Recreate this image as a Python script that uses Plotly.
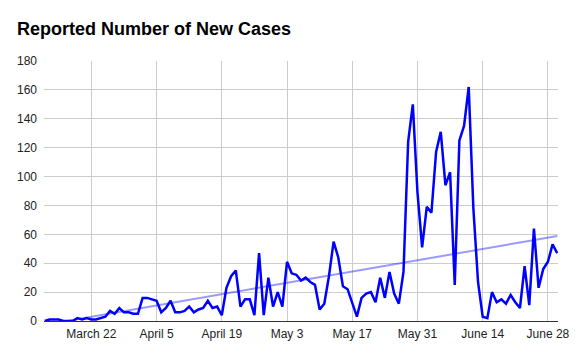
import numpy as np
import pandas as pd
import plotly.graph_objects as go

start_date = "2020-03-12"
new_cases = [
    0, 1, 1, 1, 0, 0, 0, 2, 1, 2,            # Mar 12-21
    1, 1, 2, 3, 7, 5, 9, 6, 6, 5,            # Mar 22-31
    5, 16, 16, 15, 14, 6, 9, 14, 6, 6,       # Apr 1-10
    7, 10, 6, 8, 9, 14, 9, 10, 4, 23,        # Apr 11-20
    31, 35, 10, 15, 15, 4, 47, 4, 30, 10,    # Apr 21-30
    20, 10, 41, 33, 32, 28, 30, 27, 25, 8,   # May 1-10
    12, 31, 55, 44, 24, 22, 13, 3, 16, 19,   # May 11-20
    20, 13, 30, 16, 34, 19, 12, 34, 124, 150, 89,  # May 21-31
    51, 79, 75, 117, 131, 94, 103, 25, 125, 135,   # Jun 1-10
    162, 78, 27, 3, 2, 20, 13, 15, 12, 18,         # Jun 11-20
    13, 9, 38, 11, 64, 23, 36, 41, 53, 47,         # Jun 21-30
]
tick_dates = ["2020-03-22", "2020-04-05", "2020-04-19", "2020-05-03",
              "2020-05-17", "2020-05-31", "2020-06-14", "2020-06-28"]
tick_labels = ["March 22", "April 5", "April 19", "May 3",
               "May 17", "May 31", "June 14", "June 28"]
y_ticks = [0, 20, 40, 60, 80, 100, 120, 140, 160, 180]

dates = pd.date_range(start_date, periods=len(new_cases), freq="D")
idx = np.arange(len(new_cases))
slope, intercept = np.polyfit(idx, np.array(new_cases, dtype=float), 1)
trend = slope * idx + intercept

fig = go.Figure()
fig.add_trace(go.Scatter(x=dates, y=trend, mode="lines",
                         line=dict(color="rgba(0,0,255,0.4)", width=2),
                         hoverinfo="skip", showlegend=False))
fig.add_trace(go.Scatter(x=dates, y=new_cases, mode="lines",
                         line=dict(color="#0000ff", width=2.5),
                         showlegend=False))

fig.update_layout(
    width=581, height=359,
    margin=dict(l=44, r=17, t=61, b=38),
    paper_bgcolor="white", plot_bgcolor="white",
    font=dict(family="Arial, Liberation Sans, sans-serif", size=12, color="#222222"),
    title=dict(text="<b>Reported Number of New Cases</b>",
               font=dict(family="Arial, Liberation Sans, sans-serif", size=18, color="#000000"),
               xref="container", x=17/581, xanchor="left",
               yref="container", y=1 - 29/359, yanchor="middle"),
    xaxis=dict(
        range=[pd.Timestamp("2020-03-11 20:00"), pd.Timestamp("2020-06-30 04:00")],
        tickvals=pd.to_datetime(tick_dates), ticktext=tick_labels,
        showgrid=True, gridcolor="#cccccc", gridwidth=1,
        showline=True, linecolor="#333333", linewidth=1,
        ticks="", ticklabelstandoff=2, zeroline=False,
    ),
    yaxis=dict(
        range=[0, 180], tickvals=y_ticks,
        showgrid=True, gridcolor="#cccccc", gridwidth=1,
        zeroline=False, showline=False,
        ticks="", ticklabelstandoff=6,
    ),
)

fig.write_html("out.html", config={"displayModeBar": False},
               post_script="document.body.style.margin='0';")
